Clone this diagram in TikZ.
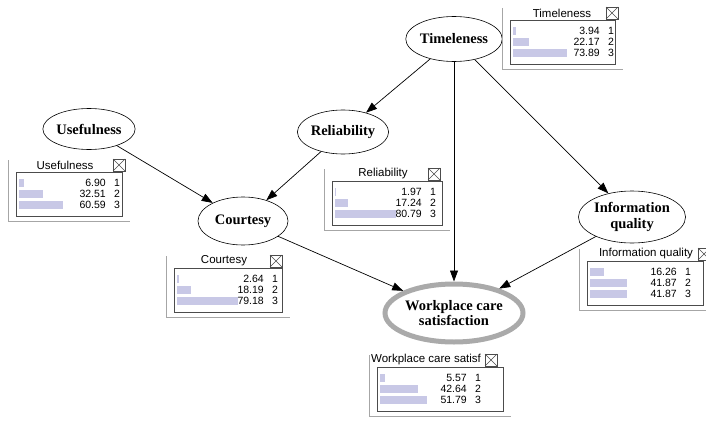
\documentclass[tikz,border=0pt]{standalone}
\usepackage{fontspec}
\setmainfont{Liberation Serif}
\newfontfamily\monfont{Liberation Sans}
\usetikzlibrary{arrows.meta,shapes.geometric}
\definecolor{barcol}{RGB}{200,200,230}
\definecolor{wring}{RGB}{170,170,170}
\tikzset{
  bn/.style={ellipse, draw, line width=0.6pt, fill=white, inner sep=0pt, align=center,
    font=\fontsize{14.5}{15.5}\selectfont\bfseries},
  edge/.style={-{Triangle[length=11pt,width=8pt]}, line width=0.7pt},
  montitle/.style={font=\monfont\fontsize{11.5}{12}\selectfont, inner sep=0pt},
  montxt/.style={font=\monfont\fontsize{10.5}{11}\selectfont, inner sep=0pt},
  barc/.style={fill=barcol},
  boxc/.style={draw=black!70, line width=0.5pt},
  framec/.style={draw=black!35, line width=0.6pt},
}
% #1 prefix, #2 x0, #3 y0, #4 w, #5 title, #6 title cx, #7 X left, #8 scale, #9 list
\newcommand\monitor[9]{%
  \begin{scope}[shift={(#2,#3)}]
    \draw[framec] (-8,-12) -- (-8,49) -- ({#4+8},49);
    \draw[boxc, fill=white] (0,0) rectangle (#4,44);
    \node[montitle] (#1-title) at ({#6-#2},-7) {#5};
    \draw[boxc, fill=white] ({#7-#2},-13) rectangle ++(12,12);
    \draw[boxc] ({#7-#2},-13) -- ++(12,12) ({#7-#2+12},-13) -- ++(-12,12);
    \foreach \p [count=\i] in {#9} {
      \fill[barc] (3,{11*\i-4}) rectangle ({3+#8*\p},{11*\i+4});
      \node[montxt, anchor=east] (#1-v\i) at (90,{11*\i}) {\p};
      \node[montxt] (#1-s\i) at (101,{11*\i}) {\i};
    }
  \end{scope}}
\begin{document}
\begin{tikzpicture}[x=1pt,y=-1pt]
\useasboundingbox (0,0) rectangle (706,420);
% nodes
\node[bn, minimum width=96pt, minimum height=45pt] (T) at (454,39) {Timeleness};
\node[bn, minimum width=92pt, minimum height=41pt] (U) at (89,129) {Usefulness};
\node[bn, minimum width=88pt, minimum height=44pt] (R) at (343,132) {Reliability};
\node[bn, minimum width=90pt, minimum height=48pt] (C) at (243,221) {Courtesy};
\node[bn, minimum width=96pt, minimum height=52pt] (I) at (632,217) {Information\\quality};
\node[bn, draw=wring, line width=5pt, minimum width=123pt, minimum height=58pt] (W) at (454,313) {Workplace care\\satisfaction};
% edges
\draw[edge] (U) -- (C);
\draw[edge] (R) -- (C);
\draw[edge] (T) -- (R);
\draw[edge] (T) -- (W);
\draw[edge] (T) -- (I);
\draw[edge] (C) -- (W);
\draw[edge] (I) -- (W);
% monitors
\monitor{mT}{510}{20}{105}{Timeleness}{562}{606}{0.73}{3.94,22.17,73.89}
\monitor{mU}{16}{172}{106}{Usefulness}{65}{113}{0.73}{6.90,32.51,60.59}
\monitor{mR}{332}{181}{110}{Reliability}{383}{428}{0.75}{1.97,17.24,80.79}
\monitor{mC}{174}{268}{108}{Courtesy}{224}{270}{0.77}{2.64,18.19,79.18}
\monitor{mI}{587}{261}{116}{Information quality}{646}{698}{0.88}{16.26,41.87,41.87}
\monitor{mW}{377}{367}{126}{Workplace care satisf}{426}{485}{0.9}{5.57,42.64,51.79}
\end{tikzpicture}
\end{document}
